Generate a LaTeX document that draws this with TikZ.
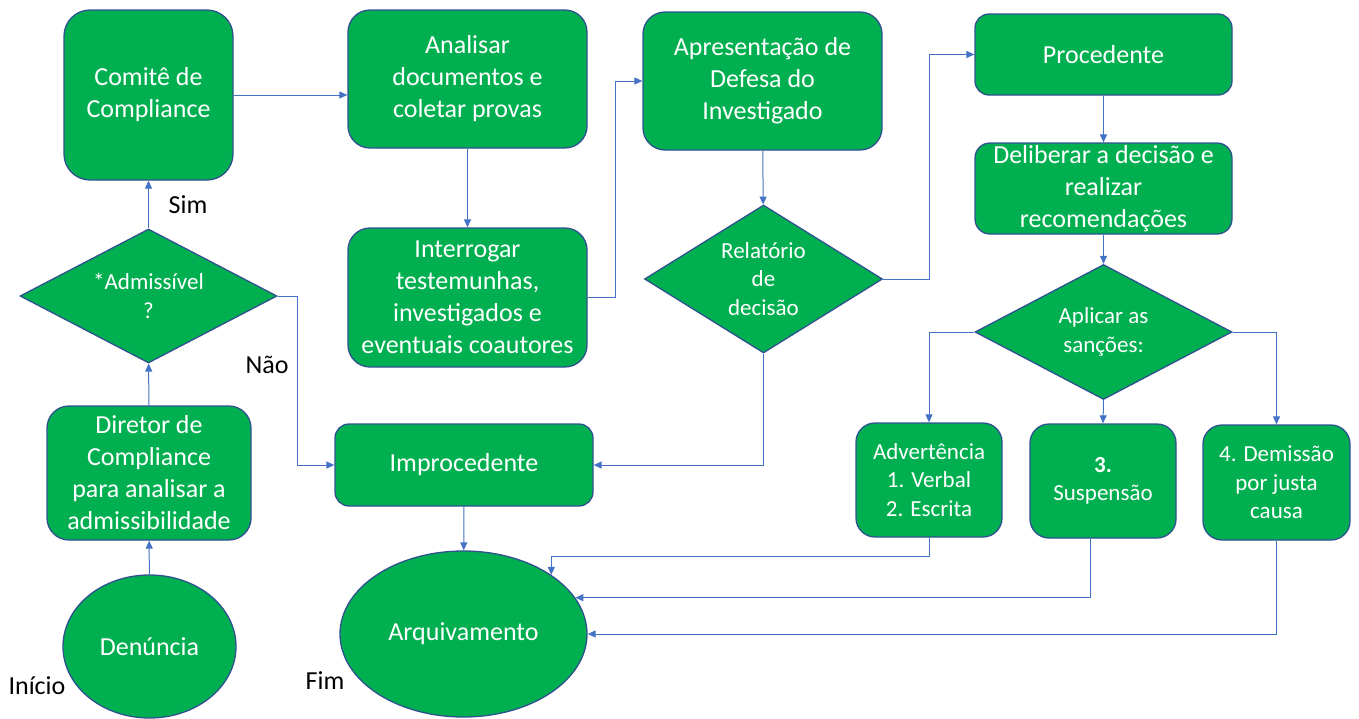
\documentclass[tikz,border=0pt]{standalone}
\usepackage{fontspec}
\setmainfont{Carlito}
\usepackage{tikz}
\usetikzlibrary{arrows.meta,shapes.geometric}

\definecolor{boxgreen}{HTML}{00B050}
\definecolor{boxline}{HTML}{2F528F}
\definecolor{linkblue}{HTML}{4472C4}

\begin{document}
\begin{tikzpicture}[x=1pt, y=-1pt, >={Triangle[length=8pt,width=7pt]},
  bigtxt/.style={font=\fontsize{26}{32}\selectfont},
  smalltxt/.style={font=\fontsize{23}{28.5}\selectfont},
  stepbox/.style={draw=boxline, line width=1.3pt, fill=boxgreen, text=white,
    align=center, inner sep=0pt, rounded corners=#1, bigtxt},
  stepbox/.default=22pt,
  choice/.style={draw=boxline, line width=1.3pt, fill=boxgreen, text=white,
    align=center, inner sep=0pt, shape=diamond, smalltxt},
  endpoint/.style={draw=boxline, line width=1.3pt, fill=boxgreen, text=white,
    shape=ellipse, inner sep=0pt, bigtxt},
  link/.style={->, draw=linkblue, line width=1pt},
  tag/.style={text=black, bigtxt}]

\useasboundingbox (0,0) rectangle (1359,718);

%% =============== Left column: entry and admissibility ===============

  % --- Start ---
  \node[endpoint, minimum width=173pt, minimum height=143pt]
    (denuncia) at (149.5,646.5) {Denúncia};
  \node[tag] (inicio) at (37,686) {Início};

  % --- Director screening ---
  \node[stepbox, minimum width=204pt, minimum height=134pt]
    (diretor) at (149,473)
    {Diretor de\\Compliance\\para analisar a\\admissibilidade};

  % --- Admissibility test ---
  \node[choice, aspect=1.9, minimum width=257pt, minimum height=134pt]
    (admiss) at (148.5,296) {*Admissível\\?};

  % --- Committee ---
  \node[stepbox=26pt, minimum width=169pt, minimum height=170pt]
    (comite) at (148.5,95) {Comitê de\\Compliance};

  \node[tag] (sim) at (188,205) {Sim};
  \node[tag] (nao) at (267,365) {Não};

%% =============== Middle: investigation ===============

  \node[stepbox, minimum width=239pt, minimum height=138pt]
    (analisar) at (467.5,79) {Analisar\\documentos e\\coletar provas};

  \node[stepbox, minimum width=239pt, minimum height=139pt]
    (interrogar) at (467.5,297.5)
    {Interrogar\\testemunhas,\\investigados e\\eventuais coautores};

  \node[stepbox, minimum width=239pt, minimum height=138pt]
    (apresent) at (762.5,81) {Apresentação de\\Defesa do\\Investigado};

  \node[choice, aspect=1.6, minimum width=238pt, minimum height=148pt]
    (relat) at (763.5,279) {Relatório\\de\\decisão};

  % --- Dismissal and archive ---
  \node[stepbox=14pt, minimum width=258pt, minimum height=82pt]
    (improced) at (464,465) {Improcedente};

  \node[endpoint, minimum width=247pt, minimum height=166pt]
    (arquiv) at (463.5,634) {Arquivamento};
  \node[tag] (fim) at (325,681) {Fim};

%% =============== Right: decision and sanctions ===============

  \node[stepbox=14pt, minimum width=257pt, minimum height=81pt]
    (proced) at (1103.5,54.5) {Procedente};

  \node[stepbox=15pt, minimum width=257pt, minimum height=91pt]
    (delib) at (1103.5,188.5)
    {Deliberar a decisão e\\realizar\\recomendações};

  \node[choice, aspect=1.9, minimum width=257pt, minimum height=135pt]
    (aplicar) at (1103.5,332) {Aplicar as\\sanções:};

  \node[stepbox=19pt, smalltxt, minimum width=146pt, minimum height=114pt]
    (advert) at (929,480) {Advertência\\1. Verbal\\2. Escrita};

  \node[stepbox=19pt, smalltxt, minimum width=146pt, minimum height=114pt]
    (suspen) at (1103,481) {\textbf{3.}\\Suspensão};

  \node[stepbox=19pt, smalltxt, minimum width=147pt, minimum height=115pt]
    (demiss) at (1276.5,482.5) {4. Demissão\\por justa\\causa};

%% =============== Connectors ===============

  % --- Entry path ---
  \draw[link] (denuncia) -- (diretor);
  \draw[link] (diretor) -- (admiss);
  \draw[link] (admiss) -- (comite);
  \draw[link] (admiss.east) -- ++(20,0) |- (improced.west);

  % --- Investigation path ---
  \draw[link] (comite.east) -- (comite.east -| analisar.west);
  \draw[link] (analisar) -- (interrogar);
  \draw[link] (interrogar.east) -- ++(28,0) |- (apresent.west);
  \draw[link] (apresent) -- (relat);
  \draw[link] (relat.east) -- ++(46,0) |- (proced.west);
  \draw[link] (relat.south) |- (improced.east);
  \draw[link] (improced) -- (arquiv);

  % --- Decision and sanctions ---
  \draw[link] (proced) -- (delib);
  \draw[link] (delib) -- (aplicar);
  \draw[link] (aplicar.west) -| (advert.north);
  \draw[link] (aplicar.south) -- (suspen.north);
  \draw[link] (aplicar.east) -| (demiss.north);

  % --- Back to archive ---
  \draw[link] (advert.south) -- ++(0,19) -| (arquiv.north east);
  \draw[link] ([xshift=-13pt]suspen.south) |- (arquiv.18);
  \draw[link] (demiss.south) |- (arquiv.east);

\end{tikzpicture}
\end{document}
